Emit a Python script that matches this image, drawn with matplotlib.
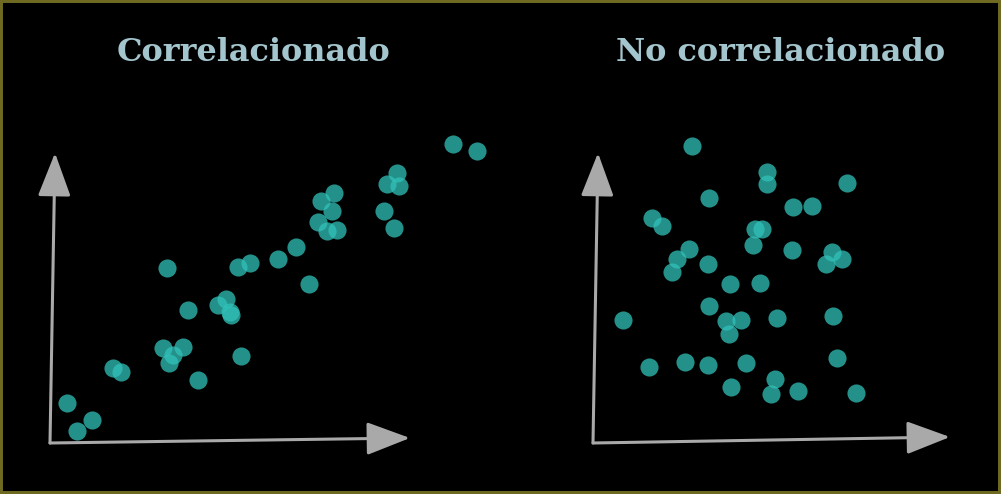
import matplotlib.pyplot as plt

# point positions, measured from each panel's axis origin
left_x = [403, 427, 347, 337, 349, 284, 271, 282, 334, 268, 344, 287, 277, 246,
          228, 200, 188, 117, 259, 176, 168, 180, 181, 138, 113, 133, 123, 119,
          191, 63, 71, 148, 17, 42, 27]
left_y = [299, 292, 270, 259, 257, 250, 242, 232, 232, 221, 215, 213, 212, 196,
          184, 180, 176, 175, 159, 144, 138, 131, 128, 133, 95, 96, 88, 80,
          87, 75, 71, 63, 40, 23, 12]

right_x = [99, 174, 174, 254, 116, 200, 219, 59, 69, 162, 169, 160, 96, 84,
           79, 115, 199, 239, 249, 233, 137, 167, 116, 30, 133, 148, 136, 184,
           240, 56, 92, 115, 153, 244, 138, 182, 178, 205, 263]
right_y = [297, 271, 259, 260, 245, 236, 237, 225, 217, 214, 214, 198, 194, 184,
           171, 179, 193, 191, 184, 179, 159, 160, 137, 123, 122, 123, 109, 125,
           127, 76, 81, 78, 80, 85, 56, 64, 49, 52, 50]

titles = ['Correlacionado', 'No correlacionado']

point_color = '#31c2ba'
arrow_color = '#a9a9a9'
title_color = '#a3c5cd'

fig = plt.figure(figsize=(10.01, 4.94), dpi=100, facecolor='black')


def draw_panel(x0, xs, ys, title, tip_v, tip_h, title_x):
    # full-figure axes, origin of the panel at pixel (x0, 443)
    ax = fig.add_axes([0, 0, 1, 1])
    ax.set_xlim(-x0, 1001 - x0)
    ax.set_ylim(-51, 443)
    ax.axis('off')
    ax.patch.set_alpha(0)
    for tip in (tip_v, tip_h):
        ax.annotate('', xy=tip, xytext=(0, 0),
                    arrowprops=dict(arrowstyle='-|>,head_length=1.0,head_width=0.38',
                                    mutation_scale=27, color=arrow_color, lw=2.2,
                                    shrinkA=0, shrinkB=0))
    ax.scatter(xs, ys, s=170, color=point_color, alpha=0.75, linewidths=0, zorder=3)
    ax.text(title_x, 390, title, ha='center', va='center', color=title_color,
            fontsize=23, fontweight='bold', family='DejaVu Serif')


draw_panel(50, left_x, left_y, titles[0], (5, 290), (360, 5), 203)
draw_panel(593, right_x, right_y, titles[1], (5, 290), (357, 6), 188)

border = plt.Rectangle((0, 0), 1, 1, transform=fig.transFigure, fill=False,
                       edgecolor='#6e6a22', lw=4.3, zorder=10)
fig.patches.append(border)

fig.savefig('out.png', dpi=100, facecolor='black')
